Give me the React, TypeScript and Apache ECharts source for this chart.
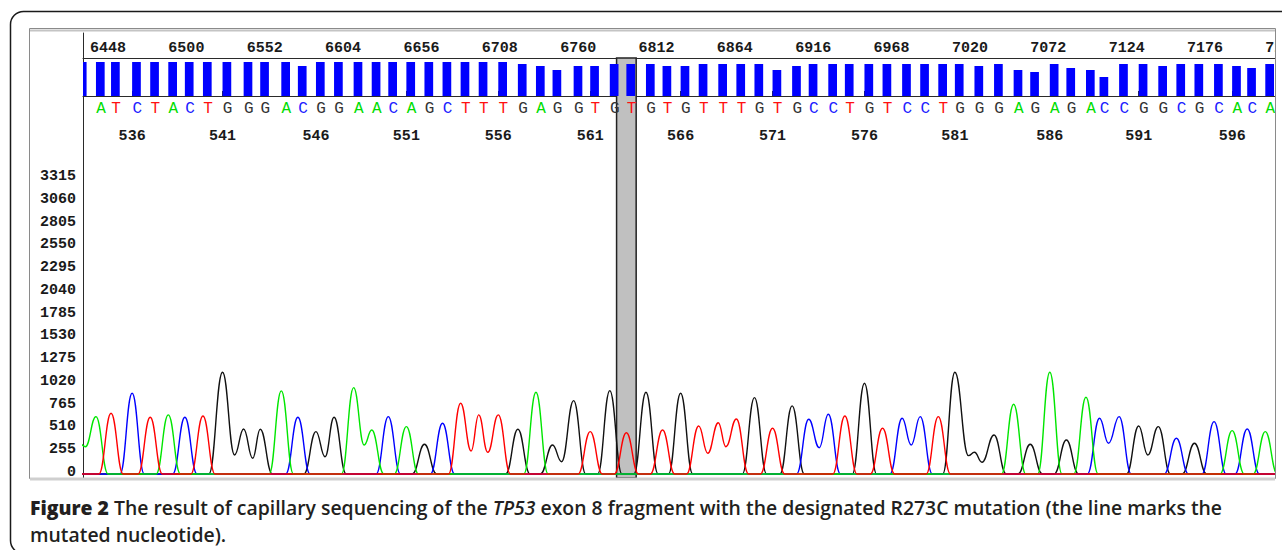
import React, { useEffect, useRef } from 'react';
import * as echarts from 'echarts';

// ---------- data ----------
const SEQUENCE = 'AATCTACTGGGACGGAACAGCTTTGAGGTGTGTGTTTGTGCCTGTCCTGGGAGAGACCGGCGCACA';
const FIRST_BASE_NUMBER = 533;
const BASE_POSITIONS = [
  6428, 6440, 6450, 6464, 6476, 6488, 6499, 6511, 6524, 6538, 6549, 6563, 6574, 6586, 6598, 6611, 6623,
  6634, 6646, 6658, 6670, 6682, 6694, 6707, 6720, 6732, 6743, 6757, 6768, 6781, 6792, 6805, 6816, 6828,
  6840, 6853, 6865, 6877, 6889, 6902, 6913, 6926, 6937, 6950, 6962, 6975, 6987, 6999, 7010, 7023, 7036,
  7049, 7060, 7073, 7084, 7097, 7106, 7119, 7132, 7145, 7157, 7169, 7182, 7194, 7204, 7216,
];
const QUALITY = [
  34, 34, 34, 34, 34, 34, 34, 34, 34, 34, 34, 34, 30, 34, 34, 34, 34,
  34, 34, 34, 34, 34, 34, 34, 32, 30, 26, 30, 30, 32, 32, 32, 30, 30,
  32, 32, 32, 32, 26, 30, 32, 32, 32, 32, 32, 32, 32, 32, 32, 30, 32,
  26, 24, 32, 28, 26, 19, 32, 32, 30, 32, 32, 32, 30, 28, 32,
];
const MUTATED_BASE_NUMBER = 563;
const SCAN_TICKS = [6448, 6500, 6552, 6604, 6656, 6708, 6760, 6812, 6864, 6916, 6968, 7020, 7072, 7124, 7176, 7228];
const BASE_NUMBER_TICKS = [536, 541, 546, 551, 556, 561, 566, 571, 576, 581, 586, 591, 596];
const INTENSITY_STEP = 255;
const INTENSITY_LABEL_MAX = 3315;

const TRACE_A: number[][] = [
  [6424, 560], [6433, 317], [6440, 654], [6448, 12], [6480, 12], [6488, 673], [6496, 12], [6555, 12],
  [6563, 942], [6571, 12], [6603, 12], [6611, 979], [6618, 336], [6623, 504], [6631, 12], [6638, 12],
  [6646, 542], [6654, 12], [6724, 12], [6732, 927], [6740, 12], [7041, 12], [7049, 792], [7057, 12],
  [7065, 12], [7073, 1151], [7081, 12], [7089, 12], [7097, 871], [7105, 12], [7186, 12], [7194, 497],
  [7202, 12], [7208, 12], [7216, 486], [7224, 12], [7234, 12],
];
const TRACE_T: number[][] = [
  [6424, 12], [6442, 12], [6450, 691], [6458, 12], [6468, 12], [6476, 647], [6484, 12], [6503, 12],
  [6511, 661], [6519, 12], [6674, 12], [6682, 804], [6689, 269], [6694, 673], [6700, 254], [6707, 673],
  [6715, 12], [6760, 12], [6768, 486], [6776, 12], [6784, 12], [6792, 474], [6800, 12], [6808, 12],
  [6816, 504], [6824, 12], [6832, 12], [6840, 549], [6846, 243], [6853, 586], [6858, 317], [6865, 628],
  [6873, 12], [6881, 12], [6889, 523], [6897, 12], [6929, 12], [6937, 661], [6945, 12], [6954, 12],
  [6962, 523], [6970, 12], [6991, 12], [6999, 654], [7007, 12], [7234, 12],
];
const TRACE_C: number[][] = [
  [6424, 12], [6456, 12], [6464, 916], [6472, 12], [6491, 12], [6499, 647], [6507, 12], [6566, 12],
  [6574, 647], [6582, 12], [6626, 12], [6634, 654], [6642, 12], [6662, 12], [6670, 579], [6678, 12],
  [6905, 12], [6913, 624], [6920, 306], [6926, 680], [6934, 12], [6967, 12], [6975, 635], [6981, 336],
  [6987, 654], [6995, 12], [7098, 12], [7106, 635], [7112, 355], [7119, 654], [7127, 12], [7149, 12],
  [7157, 411], [7165, 12], [7174, 12], [7182, 598], [7190, 12], [7196, 12], [7204, 516], [7212, 12],
  [7234, 12],
];
const TRACE_G: number[][] = [
  [6424, 12], [6515, 12], [6524, 1151], [6532, 224], [6538, 516], [6544, 187], [6549, 512], [6557, 12],
  [6578, 12], [6586, 486], [6592, 205], [6598, 647], [6606, 12], [6650, 12], [6658, 344], [6666, 12],
  [6712, 12], [6720, 512], [6728, 12], [6735, 12], [6743, 336], [6749, 149], [6757, 833], [6765, 12],
  [6773, 12], [6781, 945], [6789, 12], [6797, 12], [6805, 927], [6813, 12], [6820, 12], [6828, 916],
  [6836, 12], [6869, 12], [6877, 867], [6885, 12], [6894, 12], [6902, 774], [6910, 12], [6942, 12],
  [6950, 1028], [6958, 12], [7002, 12], [7010, 1151], [7019, 217], [7023, 254], [7028, 142], [7036, 448],
  [7044, 12], [7052, 12], [7060, 344], [7068, 12], [7076, 12], [7084, 392], [7092, 12], [7124, 12],
  [7132, 549], [7138, 224], [7145, 542], [7153, 12], [7161, 12], [7169, 355], [7177, 12], [7234, 12],
];

// ---------- styling ----------
const BASE_COLORS: Record<string, string> = { A: '#00dd00', T: '#ff1010', C: '#2020ff', G: '#333333' };
const TRACE_COLORS = { A: '#00e600', T: '#ff0000', C: '#0000ff', G: '#111111' };
const MONO = '"Liberation Mono", "DejaVu Sans Mono", monospace';
const CAPTION_FONT = '"Open Sans", "Noto Sans", sans-serif';
const AXIS_DARK = '#2a2a2a';

// x extent of the plotting area (scan units) for the pixel span 83..1290
const X_MIN = 6431.4;
const X_MAX = 7232.4;
const GRID_LEFT = 83;
const GRID_WIDTH = 1207;
const BAR_WIDTH = 8.7;
const LETTER_ROW = -13;
const BOX_HALF = 6.5;

const posOfNumber = (n: number) => BASE_POSITIONS[n - FIRST_BASE_NUMBER];
const baseTickPositions = BASE_NUMBER_TICKS.map(posOfNumber);
const numberAtPos = new Map<number, number>();
BASE_NUMBER_TICKS.forEach((n) => numberAtPos.set(posOfNumber(n), n));
const baseData = BASE_POSITIONS.map((p, i) => [p, QUALITY[i], i]);

const lineSeries = (name: string, data: number[][], color: string) => ({
  name,
  type: 'line',
  xAxisIndex: 2,
  yAxisIndex: 2,
  data,
  smooth: 0.45,
  smoothMonotone: 'x',
  showSymbol: false,
  symbol: 'none',
  clip: true,
  lineStyle: { color, width: 1.4 },
  z: 3,
  silent: true,
});

const gridBox = (top: number, height: number) => ({
  left: GRID_LEFT, width: GRID_WIDTH, top, height, outerBoundsMode: 'none', containLabel: false,
});

const option: any = {
  animation: false,
  backgroundColor: '#ffffff',
  title: {
    left: 30,
    top: 494,
    padding: 0,
    text: '{b|Figure 2} The result of capillary sequencing of the {i|TP53} exon 8 fragment with the designated R273C mutation (the line marks the\nmutated nucleotide).',
    textStyle: {
      fontFamily: CAPTION_FONT,
      fontSize: 19.4,
      fontWeight: 600,
      color: '#231f20',
      lineHeight: 27,
      rich: {
        b: { fontFamily: CAPTION_FONT, fontSize: 19.4, fontWeight: 800, color: '#231f20', lineHeight: 27 },
        i: { fontFamily: CAPTION_FONT, fontSize: 19.4, fontWeight: 600, fontStyle: 'italic', color: '#231f20', lineHeight: 27 },
      },
    },
  },
  grid: [gridBox(33, 25), gridBox(58, 89), gridBox(150, 325), gridBox(58, 420)],
  xAxis: [
    {
      gridIndex: 0, type: 'value', position: 'bottom', min: X_MIN, max: X_MAX,
      axisLine: { show: true, lineStyle: { color: AXIS_DARK, width: 1 } },
      axisTick: { show: false },
      splitLine: { show: false },
      axisLabel: {
        inside: true, margin: 2, customValues: SCAN_TICKS, formatter: (v: number) => String(v),
        showMinLabel: true, showMaxLabel: true, hideOverlap: false,
        fontFamily: MONO, fontWeight: 'bold', fontSize: 15, color: '#1a1a1a',
      },
    },
    {
      gridIndex: 1, type: 'value', position: 'bottom', min: X_MIN, max: X_MAX,
      axisLine: { show: true, lineStyle: { color: AXIS_DARK, width: 1 } },
      axisTick: { show: true, inside: true, length: 5, customValues: baseTickPositions, lineStyle: { color: AXIS_DARK } },
      splitLine: { show: false },
      axisLabel: {
        inside: true, margin: 3, customValues: baseTickPositions,
        formatter: (v: number) => String(numberAtPos.get(v) ?? ''),
        fontFamily: MONO, fontWeight: 'bold', fontSize: 15, color: '#1a1a1a',
      },
    },
    { gridIndex: 2, type: 'value', min: X_MIN, max: X_MAX, show: false },
    { gridIndex: 3, type: 'value', min: X_MIN, max: X_MAX, show: false },
  ],
  yAxis: [
    {
      gridIndex: 0, type: 'value', min: 0, max: 1,
      axisLine: { show: true, lineStyle: { color: AXIS_DARK } },
      axisTick: { show: false }, axisLabel: { show: false }, splitLine: { show: false },
    },
    { gridIndex: 1, type: 'value', min: -51, max: 38, show: false },
    {
      gridIndex: 2, type: 'value', min: 0, max: 3640, interval: INTENSITY_STEP,
      axisLine: { show: false },
      axisTick: { show: false },
      splitLine: { show: false },
      axisLabel: {
        margin: 7,
        verticalAlign: 'bottom',
        lineHeight: 5,
        formatter: (v: number) => (v % INTENSITY_STEP === 0 && v <= INTENSITY_LABEL_MAX ? String(v) : ''),
        fontFamily: MONO, fontWeight: 'bold', fontSize: 15, color: '#1a1a1a',
      },
    },
    {
      gridIndex: 3, type: 'value', min: 0, max: 1,
      axisLine: { show: true, lineStyle: { color: AXIS_DARK } },
      axisTick: { show: false }, axisLabel: { show: false }, splitLine: { show: false },
    },
  ],
  series: [
    {
      type: 'custom',
      name: 'mutation',
      xAxisIndex: 3,
      yAxisIndex: 3,
      data: [[posOfNumber(MUTATED_BASE_NUMBER)]],
      z: 1,
      silent: true,
      renderItem: (params: any, api: any) => {
        const p = api.value(0);
        const x0 = api.coord([p - BOX_HALF, 0])[0];
        const x1 = api.coord([p + BOX_HALF, 0])[0];
        const cs = params.coordSys;
        return {
          type: 'rect',
          shape: { x: x0, y: cs.y, width: x1 - x0, height: cs.height },
          style: { fill: '#c0c0c0', stroke: '#222222', lineWidth: 1.5 },
        };
      },
    },
    {
      type: 'custom',
      name: 'calls',
      xAxisIndex: 1,
      yAxisIndex: 1,
      data: baseData,
      clip: true,
      z: 3,
      silent: true,
      renderItem: (params: any, api: any) => {
        const p = api.value(0);
        const q = api.value(1);
        const idx = api.value(2);
        const letter = SEQUENCE[idx];
        const [x, yTop] = api.coord([p, q]);
        const yBase = api.coord([p, 0])[1];
        const yLetter = api.coord([p, LETTER_ROW])[1];
        const cs = params.coordSys;
        const children: any[] = [
          { type: 'rect', shape: { x, y: yTop, width: BAR_WIDTH, height: yBase - yTop }, style: { fill: '#0000ff' } },
        ];
        if (x >= cs.x) {
          children.push({
            type: 'text',
            x: x + 0.3,
            y: yLetter,
            style: {
              text: letter,
              fill: BASE_COLORS[letter],
              font: `16px ${MONO}`,
              align: 'left',
              verticalAlign: 'middle',
            },
          });
        }
        return { type: 'group', children };
      },
    },
    lineSeries('G', TRACE_G, TRACE_COLORS.G),
    lineSeries('C', TRACE_C, TRACE_COLORS.C),
    lineSeries('A', TRACE_A, TRACE_COLORS.A),
    lineSeries('T', TRACE_T, TRACE_COLORS.T),
  ],
  graphic: [
    {
      type: 'rect', z: 50, silent: true,
      shape: { x: 10.5, y: 11.5, width: 1300, height: 542, r: 13 },
      style: { fill: 'none', stroke: '#1a1a1a', lineWidth: 1.5 },
    },
    {
      type: 'rect', z: 100, silent: true,
      shape: { x: 1276, y: 20, width: 12, height: 470 },
      style: { fill: '#ffffff' },
    },
    {
      type: 'rect', z: 101, silent: true,
      shape: { x: 29.5, y: 28.5, width: 1246, height: 450 },
      style: { fill: 'none', stroke: '#8a8a8a', lineWidth: 1 },
    },
    {
      type: 'line', z: 101, silent: true,
      shape: { x1: 30, y1: 30.5, x2: 1275, y2: 30.5 },
      style: { stroke: '#c4c4c4', lineWidth: 2 },
    },
    {
      type: 'rect', z: 101, silent: true,
      shape: { x: 30, y: 477.5, width: 1245, height: 3 },
      style: { fill: '#cfcfcf' },
    },
  ],
};

export default function App() {
  const ref = useRef<HTMLDivElement>(null);
  useEffect(() => {
    const chart = echarts.init(ref.current!, null, { renderer: 'svg' });
    chart.setOption(option);
    return () => chart.dispose();
  }, []);
  return <div ref={ref} style={{ position: 'absolute', left: 0, top: 0, width: 1282, height: 550 }} />;
}
